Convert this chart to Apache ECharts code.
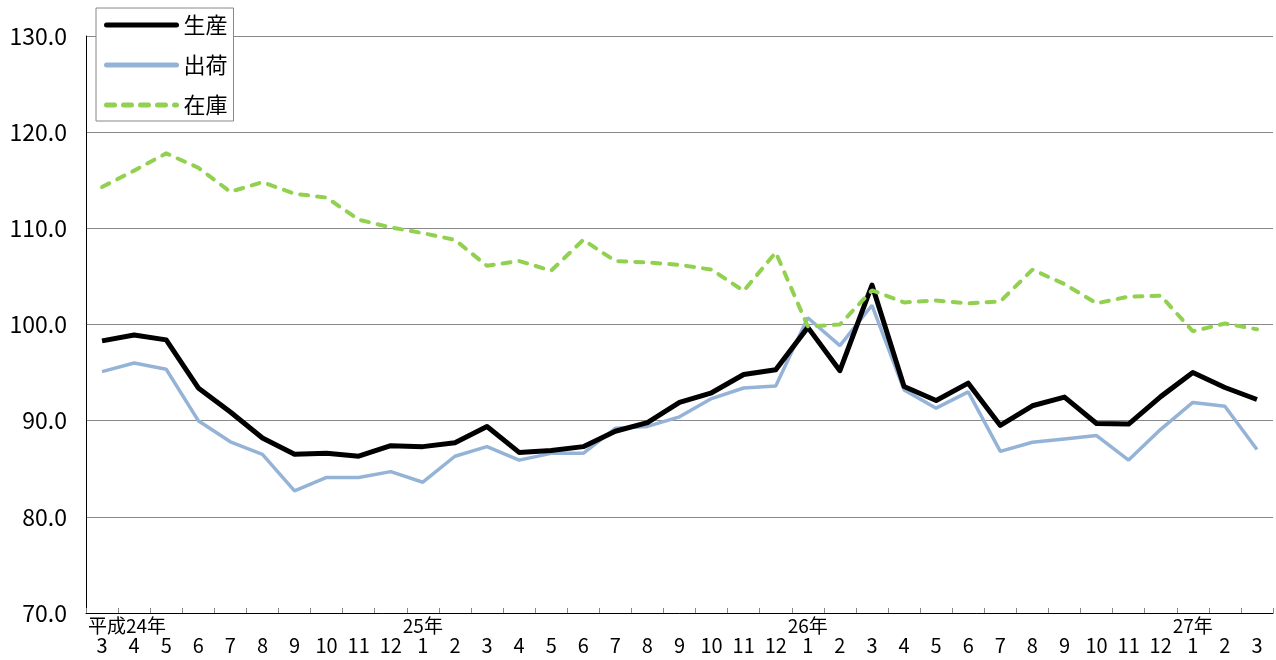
<!DOCTYPE html>
<html>
<head>
<meta charset="utf-8">
<script src="https://cdn.jsdelivr.net/npm/echarts@6/dist/echarts.min.js"></script>
<style>
html,body{margin:0;padding:0;background:#fff;}
#chart{width:1276px;height:660px;}
</style>
</head>
<body>
<div id="chart"></div>
<script>
const yearLabels = ['平成24年','','','','','','','','','','25年','','','','','','','','','','','','26年','','','','','','','','','','','','27年','',''];
const monthLabels = ['3','4','5','6','7','8','9','10','11','12','1','2','3','4','5','6','7','8','9','10','11','12','1','2','3','4','5','6','7','8','9','10','11','12','1','2','3'];
const seriesNames = ['生産','出荷','在庫'];
const production = [98.3,98.9,98.4,93.4,90.9,88.2,86.5,86.6,86.3,87.4,87.3,87.7,89.4,86.7,86.9,87.3,88.9,89.8,91.9,92.9,94.8,95.3,99.7,95.2,104.1,93.55,92.1,93.9,89.5,91.55,92.45,89.7,89.65,92.5,95.0,93.45,92.2];
const shipment = [95.1,96.0,95.35,90.0,87.8,86.5,82.7,84.1,84.1,84.7,83.6,86.3,87.3,85.9,86.6,86.6,89.2,89.4,90.4,92.3,93.4,93.6,100.7,97.8,102.0,93.2,91.3,93.0,86.8,87.75,88.1,88.45,85.9,89.1,91.9,91.5,87.0];
const inventory = [114.3,116.0,117.8,116.3,113.8,114.8,113.6,113.2,110.9,110.1,109.5,108.8,106.1,106.6,105.6,108.8,106.6,106.45,106.2,105.7,103.5,107.5,99.8,100.0,103.55,102.3,102.5,102.2,102.4,105.7,104.2,102.2,102.9,103.0,99.3,100.1,99.5];

const FONT = '"Noto Sans CJK JP", "Noto Sans", sans-serif';
const chart = echarts.init(document.getElementById('chart'));
chart.setOption({
  backgroundColor: '#ffffff',
  animation: false,
  textStyle: { fontFamily: FONT, color: '#000' },
  grid: { left: 86, right: 3, top: 36, bottom: 47, containLabel: false },
  legend: {
    orient: 'vertical',
    left: 96, top: 8,
    padding: [6, 6, 5, 8],
    itemWidth: 70, itemHeight: 20, itemGap: 18,
    borderColor: '#888', borderWidth: 1,
    backgroundColor: '#fff',
    itemStyle: { opacity: 0 },
    lineStyle: { width: 5, cap: 'round' },
    textStyle: { fontFamily: FONT, fontSize: 22, color: '#000', lineHeight: 20, padding: [0, 0, 0, 2] },
    data: seriesNames
  },
  xAxis: {
    type: 'category',
    data: monthLabels,
    boundaryGap: true,
    axisLine: { lineStyle: { color: '#000', width: 1 } },
    axisTick: { show: true, inside: true, length: 5, alignWithLabel: false, interval: 0, lineStyle: { color: '#888' } },
    axisLabel: {
      interval: 0,
      margin: 3,
      formatter: function (value, index) {
        const y = yearLabels[index];
        if (index === 0) return '{y0|' + y + '}\n{m|' + value + '}';
        return '{y|' + (y || ' ') + '}\n{m|' + value + '}';
      },
      rich: {
        y0: { fontFamily: FONT, fontSize: 19, lineHeight: 19, color: '#000', padding: [0, 0, 0, 50] },
        y: { fontFamily: FONT, fontSize: 19, lineHeight: 19, color: '#000' },
        m: { fontFamily: FONT, fontSize: 20, lineHeight: 20, color: '#000' }
      }
    },
    splitLine: { show: false }
  },
  yAxis: {
    type: 'value',
    min: 70, max: 130, interval: 10,
    axisLine: { show: true, lineStyle: { color: '#000', width: 1 } },
    axisTick: { show: false },
    axisLabel: {
      margin: 19,
      fontFamily: FONT, fontSize: 23, color: '#000',
      formatter: function (v) { return v.toFixed(1); }
    },
    splitLine: { show: true, lineStyle: { color: '#888', width: 1.2 } }
  },
  series: [
    { name: seriesNames[0], type: 'line', data: production, symbol: 'none', z: 3,
      lineStyle: { color: '#000000', width: 5, join: 'round' }, itemStyle: { color: '#000000' } },
    { name: seriesNames[1], type: 'line', data: shipment, symbol: 'none', z: 2,
      lineStyle: { color: '#95B3D7', width: 3.5 }, itemStyle: { color: '#95B3D7' } },
    { name: seriesNames[2], type: 'line', data: inventory, symbol: 'none', z: 4,
      lineStyle: { color: '#92D050', width: 4, type: [8, 9], cap: 'round' }, itemStyle: { color: '#92D050' } }
  ]
});
</script>
</body>
</html>
